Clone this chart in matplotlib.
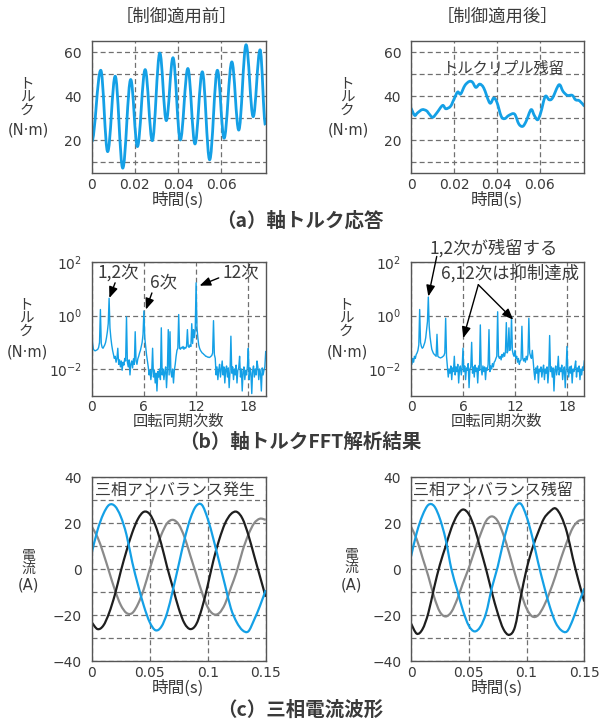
import numpy as np
import matplotlib
matplotlib.use("Agg")
import matplotlib.pyplot as plt
from matplotlib.ticker import FixedLocator, FixedFormatter, NullLocator
from matplotlib.path import Path
from matplotlib.patches import PathPatch

plt.rcParams['font.family'] = ['Noto Sans CJK JP', 'DejaVu Sans']
plt.rcParams['axes.unicode_minus'] = True

BLUE = '#14a0e6'
TXT = '#3a3a3a'

# ---------------- data ----------------
# (a) shaft torque, before control (extrema)
torque_before_t = [0.0, 0.0042, 0.0074, 0.0109, 0.0144, 0.0181, 0.0212, 0.0248, 0.0281,
                   0.0316, 0.0346, 0.0377, 0.0411, 0.0446, 0.0479, 0.0513, 0.0547, 0.0583,
                   0.0614, 0.0650, 0.0682, 0.0716, 0.0749, 0.0781, 0.0806]
torque_before_v = [19.2, 51.7, 14.7, 49.0, 7.2, 47.5, 17.0, 52.0, 19.7,
                   59.5, 28.8, 57.4, 20.0, 52.5, 18.2, 51.0, 11.0, 51.7,
                   20.8, 55.5, 24.5, 63.3, 30.6, 61.0, 26.8]
# (a) shaft torque, after control
torque_after_t = [0.0, 0.0017, 0.003, 0.0052, 0.0072, 0.0085, 0.0101, 0.012, 0.0147, 0.0162,
                  0.0184, 0.0199, 0.0217, 0.0231, 0.0251, 0.0271, 0.0286, 0.0302, 0.032, 0.0339,
                  0.0367, 0.0385, 0.040, 0.042, 0.0436, 0.0456, 0.0482, 0.0502, 0.052, 0.0536,
                  0.0559, 0.0574, 0.059, 0.0605, 0.0625, 0.0643, 0.0659, 0.0689, 0.0708, 0.0728,
                  0.0751, 0.0766, 0.0785, 0.0808]
torque_after_v = [34.5, 31.2, 32.3, 33.8, 33.3, 31.8, 30.3, 32.3, 35.7, 34.2,
                  35.3, 38.3, 41.8, 40.9, 44.8, 46.6, 46.3, 43.9, 45.4, 43.6,
                  36.8, 39.1, 37.2, 30.8, 29.7, 31.2, 31.8, 27.3, 26.2, 28.5,
                  33.8, 31.2, 29.2, 32.7, 39.8, 38.3, 39.1, 45.1, 42.1, 40.3,
                  40.3, 38.3, 37.8, 35.3]

# (b) FFT, rotation-synchronous order grid (0.1 step)
fft_order = np.round(np.arange(0, 201) * 0.1, 1)
fft_before = [
    0.55, 0.09, 0.055, 0.05, 0.048, 0.05, 0.052, 0.055, 0.065, 0.1,
    1.7, 0.09, 0.065, 0.06, 0.07, 0.08, 0.1, 0.15, 0.25, 0.5,
    4.5, 0.35, 0.15, 0.08, 0.05, 0.035, 0.025, 0.03, 0.018, 0.025,
    0.06, 0.015, 0.022, 0.012, 0.02, 0.009, 0.018, 0.014, 0.025, 0.02,
    0.9, 0.018, 0.012, 0.022, 0.006, 0.016, 0.02, 0.011, 0.024, 0.015,
    0.25, 0.02, 0.015, 0.024, 0.03, 0.04, 0.05, 0.07, 0.1, 0.2,
    1.5, 0.15, 0.07, 0.035, 0.02, 0.012, 0.006, 0.009, 0.004, 0.008,
    0.06, 0.005, 0.009, 0.003, 0.007, 0.0015, 0.008, 0.005, 0.01, 0.004,
    0.35, 0.006, 0.01, 0.004, 0.008, 0.012, 0.002, 0.009, 0.3, 0.006,
    0.25, 0.008, 0.005, 0.01, 0.003, 0.009, 0.015, 0.03, 0.05, 0.06,
    1.1, 0.06, 0.055, 0.065, 0.06, 0.07, 0.055, 0.065, 0.06, 0.07,
    0.3, 0.07, 0.065, 0.08, 0.07, 0.5, 0.09, 0.3, 0.15, 0.3,
    17.0, 0.35, 0.15, 0.08, 0.06, 0.05, 0.045, 0.04, 0.038, 0.035,
    0.033, 0.03, 0.03, 0.028, 0.028, 0.027, 0.028, 0.03, 0.032, 0.04,
    0.65, 0.035, 0.025, 0.006, 0.012, 0.004, 0.009, 0.015, 0.005, 0.01,
    0.02, 0.006, 0.012, 0.003, 0.009, 0.013, 0.005, 0.011, 0.002, 0.008,
    0.17, 0.007, 0.012, 0.004, 0.01, 0.006, 0.014, 0.003, 0.009, 0.011,
    0.03, 0.005, 0.01, 0.0015, 0.008, 0.012, 0.004, 0.009, 0.006, 0.013,
    0.06, 0.004, 0.011, 0.007, 0.0012, 0.009, 0.013, 0.005, 0.01, 0.006,
    0.02, 0.012, 0.004, 0.01, 0.007, 0.0015, 0.011, 0.006, 0.009, 0.012,
    0.045]
fft_after = [
    0.03, 0.015, 0.025, 0.018, 0.03, 0.025, 0.035, 0.04, 0.05, 0.08,
    1.7, 0.1, 0.07, 0.06, 0.065, 0.08, 0.1, 0.15, 0.3, 0.6,
    5.0, 0.4, 0.16, 0.09, 0.055, 0.045, 0.038, 0.035, 0.032, 0.03,
    0.2, 0.03, 0.028, 0.027, 0.026, 0.027, 0.028, 0.03, 0.032, 0.04,
    0.8, 0.03, 0.012, 0.005, 0.01, 0.007, 0.013, 0.004, 0.011, 0.008,
    0.03, 0.006, 0.012, 0.008, 0.015, 0.003, 0.01, 0.013, 0.006, 0.011,
    0.06, 0.008, 0.013, 0.004, 0.011, 0.009, 0.016, 0.002, 0.01, 0.012,
    0.1, 0.007, 0.012, 0.005, 0.014, 0.008, 0.011, 0.003, 0.013, 0.009,
    0.45, 0.01, 0.006, 0.013, 0.008, 0.012, 0.004, 0.011, 0.009, 0.015,
    0.3, 0.008, 0.013, 0.01, 0.016, 0.012, 0.018, 0.02, 0.025, 0.03,
    1.4, 0.03, 0.025, 0.03, 0.022, 0.035, 0.028, 0.04, 0.03, 0.045,
    0.55, 0.04, 0.05, 0.35, 0.05, 0.06, 0.9, 0.05, 0.035, 0.03,
    0.05, 0.025, 0.03, 0.018, 0.025, 0.015, 0.02, 0.022, 0.4, 0.025,
    0.02, 0.025, 0.018, 0.03, 0.022, 0.035, 0.8, 0.04, 0.03, 0.025,
    0.05, 0.02, 0.008, 0.004, 0.011, 0.007, 0.013, 0.003, 0.01, 0.008,
    0.012, 0.005, 0.009, 0.014, 0.004, 0.01, 0.007, 0.012, 0.003, 0.009,
    0.18, 0.008, 0.012, 0.005, 0.011, 0.0015, 0.009, 0.013, 0.006, 0.01,
    0.03, 0.006, 0.011, 0.008, 0.014, 0.004, 0.009, 0.012, 0.002, 0.01,
    0.07, 0.009, 0.005, 0.012, 0.007, 0.013, 0.003, 0.01, 0.008, 0.012,
    0.02, 0.005, 0.011, 0.008, 0.013, 0.004, 0.01, 0.006, 0.012, 0.009,
    0.02]

# (c) three-phase currents, sampled every 5 ms
current_t = np.round(np.arange(0, 31) * 0.005, 3)
ia_before = [7, 17, 24, 28, 27.5, 23, 15, 3, -7, -16, -23, -26.5, -25, -19, -9, 2,
             13, 22, 27.5, 28, 22, 13, 3, -7, -17, -23, -26.5, -27, -22, -16, -9]
ib_before = [-23, -26, -24.5, -19, -11, -1, 8, 16, 22, 25, 24, 19, 11, 1, -8, -17,
             -23.5, -26, -24, -17, -7, 4, 13, 20, 24, 25, 22, 15, 6, -3, -12]
ic_before = [18.5, 14, 7, -1, -9, -15.5, -19, -19, -15, -8.5, 0, 8, 15, 20, 21.5, 19.5,
             14, 6, -2, -10, -16.5, -19.5, -19, -15, -8, -1, 8, 15, 20, 22, 21.5]
ia_after = [5.5, 16, 23.5, 28, 27.5, 22, 13, 0, -9, -18, -24.5, -27, -25, -19, -8, 1,
            12, 21, 27, 28.5, 23, 14, 3, -7, -16, -23, -26.5, -27, -22, -15, -8.3]
ib_after = [-23.5, -28, -26, -19, -8, 2, 10, 18, 23.5, 26, 24, 18, 9, 0, -10, -19,
            -26, -28.5, -25, -12, 0, 9, 16, 22, 25, 26.5, 23, 16, 5, -5, -14]
ic_after = [18.5, 13, 5, -3, -12, -18.5, -20.5, -18.5, -13, -6, 0.5, 8, 15, 21, 23, 21,
            15, 7, -2, -10, -17, -20.5, -20, -16, -10, -3, 5, 12, 18, 21, 21.5]

# ---------------- figure ----------------
W, H = 600, 724
fig = plt.figure(figsize=(W / 100, H / 100), dpi=100)


def ax_px(x0, x1, y0, y1):
    return fig.add_axes([x0 / W, 1 - y1 / H, (x1 - x0) / W, (y1 - y0) / H])


def ftext(x, y, s, **kw):
    kw.setdefault('color', TXT)
    kw.setdefault('ha', 'center')
    kw.setdefault('va', 'center')
    fig.text(x / W, 1 - y / H, s, **kw)


def style(ax, xpad=3.5):
    for s in ax.spines.values():
        s.set_color('#555555')
        s.set_linewidth(1.0)
    ax.tick_params(which='both', length=0, labelsize=10, colors=TXT, pad=7)
    ax.tick_params(axis='x', pad=xpad)
    for lab in ax.get_xticklabels() + ax.get_yticklabels():
        lab.set_fontfamily('DejaVu Sans')
    ax.grid(True, which='both', color='#707070', lw=0.9, ls=(0, (4, 2.5)))
    ax.set_axisbelow(True)


def extrema_curve(ax, x, y, **kw):
    """Smooth curve through successive extrema (horizontal tangents)."""
    k = 0.3642
    verts = [(x[0], y[0])]
    codes = [Path.MOVETO]
    for i in range(len(x) - 1):
        dx = x[i + 1] - x[i]
        verts += [(x[i] + k * dx, y[i]), (x[i + 1] - k * dx, y[i + 1]), (x[i + 1], y[i + 1])]
        codes += [Path.CURVE4] * 3
    ax.add_patch(PathPatch(Path(verts, codes), fill=False, **kw))


def smooth_curve(ax, x, y, **kw):
    """Catmull-Rom curve through the sampled points."""
    p = np.column_stack([x, y]).astype(float)
    ext = np.vstack([p[0], p, p[-1]])
    verts = [tuple(p[0])]
    codes = [Path.MOVETO]
    for i in range(1, len(ext) - 2):
        p0, p1, p2, p3 = ext[i - 1], ext[i], ext[i + 1], ext[i + 2]
        verts += [tuple(p1 + (p2 - p0) / 6), tuple(p2 - (p3 - p1) / 6), tuple(p2)]
        codes += [Path.CURVE4] * 3
    ax.add_patch(PathPatch(Path(verts, codes), fill=False, **kw))


LEFT = (91.7, 265.7)
RIGHT = (411.0, 584.3)

# ---- (a) torque ----
for (x0, x1), t, v in [(LEFT, torque_before_t, torque_before_v),
                       (RIGHT, torque_after_t, torque_after_v)]:
    ax = ax_px(x0, x1, 41, 173)
    if x0 < 300:
        extrema_curve(ax, t, v, edgecolor=BLUE, lw=2.0, joinstyle='round')
    else:
        smooth_curve(ax, t, v, edgecolor=BLUE, lw=2.0, joinstyle='round')
    ax.set_xlim(0, 0.0807)
    ax.set_ylim(5, 65)
    ax.yaxis.set_major_locator(FixedLocator([20, 40, 60]))
    ax.yaxis.set_minor_locator(FixedLocator([10, 30, 50]))
    ax.xaxis.set_major_locator(FixedLocator([0, 0.02, 0.04, 0.06]))
    ax.xaxis.set_major_formatter(FixedFormatter(['0', '0.02', '0.04', '0.06']))
    ax.yaxis.set_major_formatter(FixedFormatter(['20', '40', '60']))
    ax.xaxis.set_minor_locator(NullLocator())
    style(ax)
    if x0 > 300:
        ax.text(0.0435, 52.6, 'トルクリプル残留', fontsize=11, color=TXT,
                ha='center', va='center')

# ---- (b) FFT ----
for (x0, x1), mag in [(LEFT, fft_before), (RIGHT, fft_after)]:
    ax = ax_px(x0, x1, 262.3, 395.7)
    ax.plot(fft_order, mag, color=BLUE, lw=1.0)
    ax.set_yscale('log')
    ax.set_xlim(0, 20)
    ax.set_ylim(1e-3, 1e2)
    ax.yaxis.set_major_locator(FixedLocator([1e-2, 1e0, 1e2]))
    ax.yaxis.set_major_formatter(FixedFormatter([r'$10^{-2}$', r'$10^{0}$', r'$10^{2}$']))
    ax.yaxis.set_minor_locator(NullLocator())
    ax.xaxis.set_major_locator(FixedLocator([0, 6, 12, 18]))
    ax.xaxis.set_major_formatter(FixedFormatter(['0', '6', '12', '18']))
    ax.xaxis.set_minor_locator(NullLocator())
    style(ax, xpad=3)
    ap = dict(arrowstyle='-|>,head_length=0.55,head_width=0.22', color='black',
              lw=1.0, shrinkA=0, shrinkB=0, mutation_scale=12)
    fs = 12.5
    if x0 < 300:
        ax.text(3.07, 40, '1,2次', fontsize=fs, color=TXT, ha='center', va='center')
        ax.annotate('', xy=(2.03, 4.6), xytext=(2.69, 17), arrowprops=ap, annotation_clip=False)
        ax.text(8.2, 17, '6次', fontsize=fs, color=TXT, ha='center', va='center')
        ax.annotate('', xy=(6.23, 1.7), xytext=(6.92, 7.1), arrowprops=ap, annotation_clip=False)
        ax.text(17.1, 41, '12次', fontsize=fs, color=TXT, ha='center', va='center')
        ax.annotate('', xy=(12.4, 13.3), xytext=(14.6, 26), arrowprops=ap, annotation_clip=False)
    else:
        ax.text(9.5, 10 ** 2.54, '1,2次が残留する', fontsize=fs, color=TXT,
                ha='center', va='center', clip_on=False)
        ax.annotate('', xy=(2.0, 10 ** 0.72), xytext=(2.97, 10 ** 2.22), arrowprops=ap,
                    annotation_clip=False)
        ax.text(11.42, 10 ** 1.6, '6,12次は抑制達成', fontsize=fs, color=TXT,
                ha='center', va='center')
        ax.annotate('', xy=(6.03, 10 ** -0.84), xytext=(7.77, 10 ** 1.16), arrowprops=ap,
                    annotation_clip=False)
        ax.annotate('', xy=(11.8, 10 ** -0.15), xytext=(7.77, 10 ** 1.16), arrowprops=ap,
                    annotation_clip=False)

# ---- (c) currents ----
for (x0, x1), a, b, c, lab, tx in [
        (LEFT, ia_before, ib_before, ic_before, '三相アンバランス発生', 0.003),
        (RIGHT, ia_after, ib_after, ic_after, '三相アンバランス残留', 0.002)]:
    ax = ax_px(x0, x1, 477.3, 661.3)
    smooth_curve(ax, current_t, c, edgecolor='#8a8a8a', lw=1.6)
    smooth_curve(ax, current_t, b, edgecolor='#1e1e1e', lw=1.6)
    smooth_curve(ax, current_t, a, edgecolor=BLUE, lw=1.6)
    ax.set_xlim(0, 0.15)
    ax.set_ylim(-40, 40)
    ax.yaxis.set_major_locator(FixedLocator([-40, -20, 0, 20, 40]))
    ax.yaxis.set_major_formatter(FixedFormatter(['\u221240', '\u221220', '0', '20', '40']))
    ax.yaxis.set_minor_locator(FixedLocator([-30, -10, 10, 30]))
    ax.xaxis.set_major_locator(FixedLocator([0, 0.05, 0.1, 0.15]))
    ax.xaxis.set_major_formatter(FixedFormatter(['0', '0.05', '0.1', '0.15']))
    ax.xaxis.set_minor_locator(NullLocator())
    style(ax)
    ax.text(tx, 34.5, lab, fontsize=11.5, color=TXT, ha='left', va='center')

# ---- titles, labels, captions ----
ftext(176, 17, '［制御適用前］', fontsize=12.5)
ftext(497.5, 17, '［制御適用後］', fontsize=12.5)

# stacked (vertical) axis labels: one text object each
for xc, yc, unit_y in [(27, 97.5, 130), (347, 97.5, 130),
                       (26, 318.5, 351.7), (346, 318.5, 351.7)]:
    ftext(xc, yc, 'ト\nル\nク', fontsize=10.5, linespacing=0.93)
    ftext(xc + 1, unit_y, '(N·m)', fontsize=10.5, family='DejaVu Sans')

for xc, yc, unit_y in [(28.5, 562, 585), (351.7, 561, 585)]:
    ftext(xc, yc, '電\n流', fontsize=10, linespacing=0.9)
    ftext(xc, unit_y, '(A)', fontsize=10.5, family='DejaVu Sans')

for xc in (178, 497):
    ftext(xc, 200, '時間(s)', fontsize=12)
    ftext(xc, 421.7, '回転同期次数', fontsize=11)
    ftext(xc, 688.3, '時間(s)', fontsize=12)

ftext(300, 221, '（a）軸トルク応答', fontsize=14, fontweight='bold')
ftext(300, 442, '（b）軸トルクFFT解析結果', fontsize=14, fontweight='bold')
ftext(300, 710, '（c）三相電流波形', fontsize=14, fontweight='bold')

fig.savefig('out.png', dpi=100)
